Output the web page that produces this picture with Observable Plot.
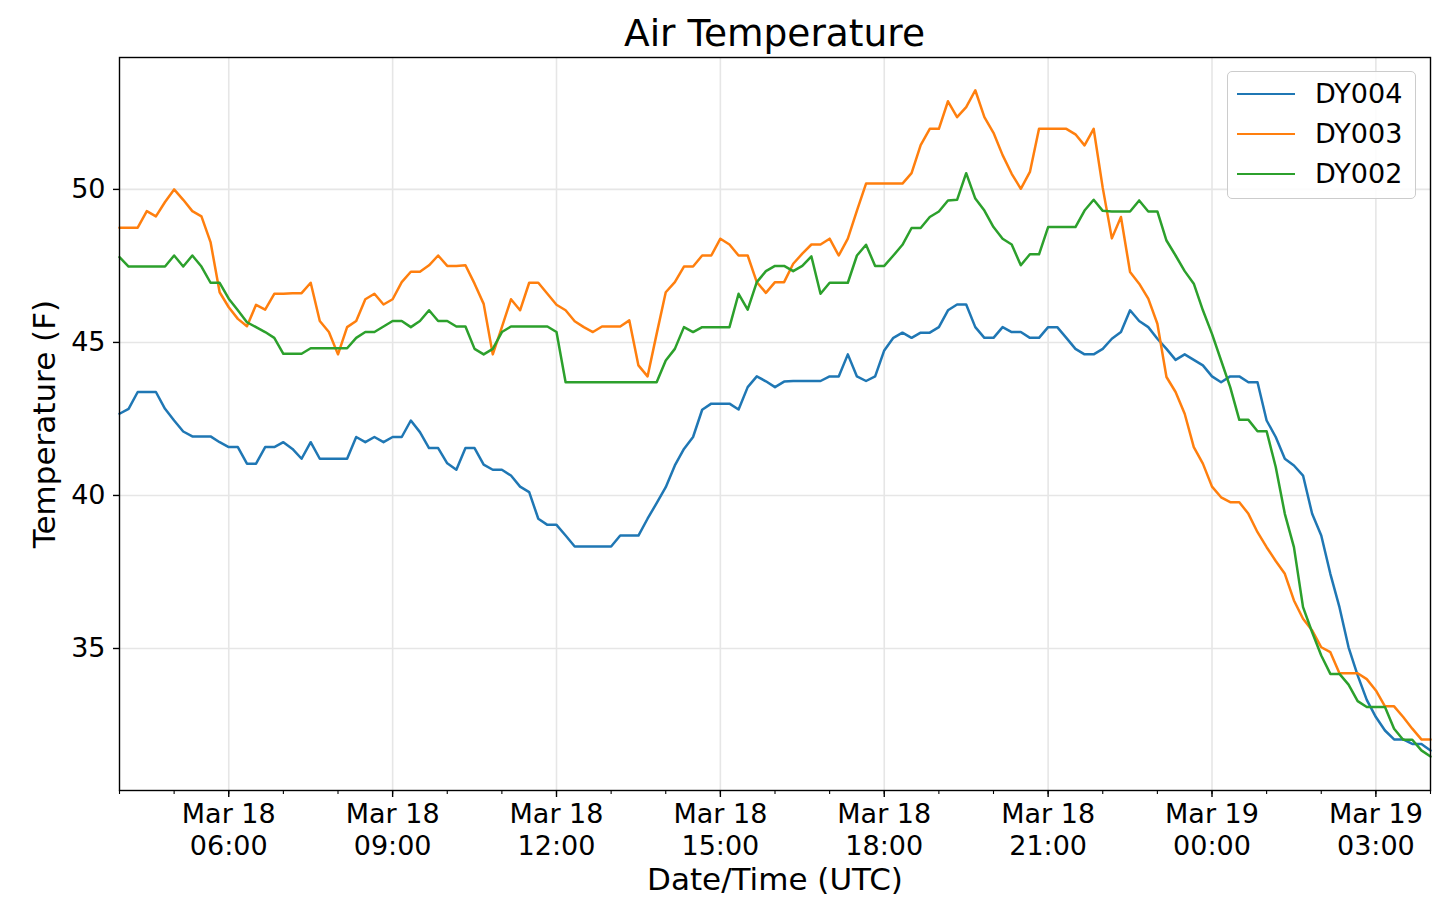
<!DOCTYPE html>
<html>
<head>
<meta charset="utf-8">
<script src="https://cdn.jsdelivr.net/npm/d3@7"></script>
<script src="https://cdn.jsdelivr.net/npm/@observablehq/plot@0.6"></script>
<style>
  body { margin: 0; background: #fff; font-family: "DejaVu Sans", sans-serif; }
  #wrap { position: relative; width: 1440px; height: 910px; overflow: hidden; }
  #title { position: absolute; left: 119px; width: 1311px; top: 11px; text-align: center;
           font-size: 37.5px; line-height: 44px; color: #000; }
  #chart { position: absolute; left: 0; top: 0; }
  #legend { position: absolute; left: 1227px; top: 71px; width: 187px; height: 126px;
            border: 1.3px solid #cccccc; border-radius: 5px; background: rgba(255,255,255,0.85); }
  .row { position: absolute; left: 0; height: 40px; width: 187px; }
  .sw { position: absolute; left: 9px; width: 58px; height: 0; border-top: 2.5px solid; }
  .lab { position: absolute; left: 87px; font-size: 27px; line-height: 30px; color: #000; }
</style>
</head>
<body>
<div id="wrap">
  <div id="chart"></div>
  <div id="title">Air Temperature</div>
  <div id="legend"></div>
</div>
<script>
// ---- data (10-minute samples, Mar 18 04:00 UTC to Mar 19 04:00 UTC) ----
const stations = ["DY004", "DY003", "DY002"];
const colors = ["#1f77b4", "#ff7f0e", "#2ca02c"];

const dy004 = [42.67,42.83,43.38,43.38,43.38,42.83,42.45,42.09,41.93,41.93,
  41.93,41.74,41.58,41.58,41.04,41.04,41.58,41.58,41.74,41.52,
  41.20,41.74,41.20,41.20,41.20,41.20,41.91,41.74,41.91,41.74,
  41.91,41.91,42.45,42.07,41.55,41.55,41.05,40.84,41.55,41.55,
  41.01,40.84,40.84,40.65,40.29,40.11,39.24,39.04,39.04,38.69,
  38.33,38.33,38.33,38.33,38.33,38.69,38.69,38.69,39.24,39.75,
  40.27,40.98,41.52,41.91,42.80,43.00,43.00,43.00,42.81,43.54,
  43.89,43.73,43.54,43.72,43.74,43.74,43.74,43.74,43.89,43.89,
  44.61,43.89,43.74,43.89,44.74,45.15,45.32,45.15,45.32,45.32,
  45.50,46.05,46.24,46.24,45.50,45.15,45.15,45.50,45.34,45.34,
  45.15,45.15,45.50,45.50,45.15,44.79,44.61,44.61,44.79,45.12,
  45.34,46.05,45.70,45.50,45.12,44.79,44.43,44.61,44.43,44.25,
  43.89,43.70,43.89,43.89,43.70,43.70,42.45,41.91,41.20,40.98,
  40.65,39.40,38.69,37.44,36.35,35.04,34.12,33.32,32.76,32.32,
  32.03,32.03,31.88,31.88,31.67];

const dy003 = [48.75,48.75,48.75,49.29,49.12,49.59,50.00,49.66,49.29,49.12,
  48.28,46.64,46.15,45.77,45.53,46.23,46.07,46.59,46.59,46.61,
  46.61,46.95,45.70,45.34,44.61,45.50,45.70,46.41,46.59,46.24,
  46.41,46.97,47.31,47.31,47.52,47.84,47.50,47.50,47.52,46.92,
  46.26,44.61,45.50,46.41,46.05,46.95,46.95,46.59,46.23,46.05,
  45.69,45.50,45.34,45.52,45.52,45.52,45.72,44.25,43.89,45.28,
  46.64,46.97,47.48,47.48,47.84,47.84,48.39,48.20,47.84,47.84,
  46.97,46.62,46.97,46.97,47.57,47.90,48.20,48.20,48.39,47.84,
  48.39,49.31,50.19,50.19,50.19,50.19,50.19,50.53,51.45,51.98,
  51.98,52.88,52.36,52.69,53.24,52.36,51.85,51.12,50.51,50.02,
  50.57,51.98,51.98,51.98,51.98,51.80,51.44,51.98,50.05,48.40,
  49.10,47.30,46.92,46.43,45.61,43.87,43.38,42.67,41.58,41.04,
  40.29,39.94,39.78,39.78,39.40,38.80,38.31,37.86,37.44,36.57,
  35.97,35.59,35.04,34.88,34.19,34.19,34.19,34.00,33.63,33.11,
  33.11,32.76,32.38,32.03,32.03];

const dy002 = [47.79,47.48,47.48,47.48,47.48,47.48,47.84,47.48,47.84,47.48,
  46.95,46.95,46.43,46.05,45.66,45.50,45.34,45.15,44.63,44.63,
  44.63,44.81,44.81,44.81,44.81,44.81,45.15,45.34,45.34,45.52,
  45.70,45.70,45.50,45.70,46.05,45.70,45.70,45.52,45.52,44.79,
  44.61,44.79,45.34,45.52,45.52,45.52,45.52,45.52,45.34,43.70,
  43.70,43.70,43.70,43.70,43.70,43.70,43.70,43.70,43.70,43.70,
  44.41,44.79,45.50,45.34,45.50,45.50,45.50,45.50,46.59,46.07,
  46.97,47.33,47.50,47.50,47.33,47.50,47.81,46.59,46.95,46.95,
  46.95,47.84,48.19,47.50,47.50,47.84,48.19,48.74,48.74,49.10,
  49.28,49.64,49.66,50.53,49.70,49.31,48.77,48.39,48.20,47.52,
  47.88,47.88,48.77,48.77,48.77,48.77,49.31,49.66,49.30,49.28,
  49.28,49.28,49.64,49.28,49.28,48.33,47.84,47.33,46.92,46.05,
  45.28,44.41,43.54,42.47,42.47,42.10,42.10,40.93,39.40,38.31,
  36.35,35.53,34.77,34.17,34.17,33.82,33.28,33.09,33.09,33.09,
  32.38,32.02,32.02,31.67,31.47];

const yTicks = [35, 40, 45, 50];
const yDomain = [30.36, 54.31];

// ---- build table ----
const start = new Date(Date.UTC(2019, 2, 18, 4, 0));
const end = new Date(Date.UTC(2019, 2, 19, 4, 0));
const times = d3.utcMinute.every(10).range(start, new Date(+end + 1));
const seriesValues = [dy004, dy003, dy002];
const rows = [];
stations.forEach((name, k) => {
  seriesValues[k].forEach((v, i) => rows.push({time: times[i], temp: v, station: name}));
});

const majorTicks = d3.utcHour.every(3).range(start, new Date(+end + 1));
const minorTicks = d3.utcHour.every(1).range(start, new Date(+end + 1));
const fmt = d3.utcFormat("%b %d\n%H:%M");

const chart = Plot.plot({
  width: 1440,
  height: 910,
  marginTop: 57,
  marginBottom: 120,
  marginLeft: 119,
  marginRight: 10,
  style: {fontFamily: "DejaVu Sans", fontSize: "27px", color: "#000", background: "transparent"},
  x: {type: "utc", domain: [start, end], label: null},
  y: {domain: yDomain, label: null},
  color: {domain: stations, range: colors},
  marks: [
    Plot.gridX({ticks: majorTicks, stroke: "#e6e6e6", strokeOpacity: 1, strokeWidth: 1.6}),
    Plot.gridY({ticks: yTicks, stroke: "#e6e6e6", strokeOpacity: 1, strokeWidth: 1.6}),
    Plot.line(rows, {x: "time", y: "temp", z: "station", stroke: "station", strokeWidth: 2.5}),
    Plot.frame({stroke: "#000", strokeWidth: 1.4}),
    Plot.axisX({ticks: minorTicks, tickSize: 4, tickFormat: () => "", label: null, strokeWidth: 1.1}),
    Plot.axisX({ticks: majorTicks, tickSize: 7, tickFormat: () => "", label: null, strokeWidth: 1.4}),
    Plot.text(majorTicks, {x: d => d, frameAnchor: "bottom", text: d => fmt(d),
      lineAnchor: "top", dy: 10, lineHeight: 1.19, fontSize: 27, fill: "#000"}),
    Plot.axisY({ticks: yTicks, tickSize: 6, tickPadding: 8, label: null, strokeWidth: 1.4, fontSize: 27}),
    Plot.text(["Temperature (F)"], {frameAnchor: "left", textAnchor: "middle", lineAnchor: "middle",
      dx: -74, rotate: -90, fontSize: 31, fill: "#000"}),
    Plot.text(["Date/Time (UTC)"], {frameAnchor: "bottom", textAnchor: "middle", lineAnchor: "middle",
      dy: 90, fontSize: 31, fill: "#000"})
  ]
});
document.getElementById("chart").appendChild(chart);

// ---- legend ----
const legend = document.getElementById("legend");
stations.forEach((name, k) => {
  const row = document.createElement("div");
  row.className = "row";
  row.style.top = (2 + k * 40) + "px";
  const sw = document.createElement("div");
  sw.className = "sw";
  sw.style.borderTopColor = colors[k];
  sw.style.top = "19px";
  const lab = document.createElement("div");
  lab.className = "lab";
  lab.style.top = "5px";
  lab.textContent = name;
  row.appendChild(sw);
  row.appendChild(lab);
  legend.appendChild(row);
});
</script>
</body>
</html>
